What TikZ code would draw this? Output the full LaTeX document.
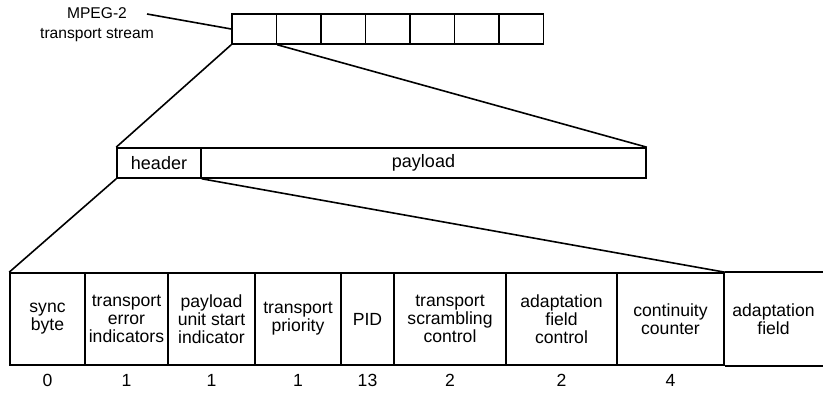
\documentclass[tikz,border=0pt]{standalone}
\usepackage{fontspec}
\setmainfont{Liberation Sans}
\usetikzlibrary{positioning}

\begin{document}
\begin{tikzpicture}[x=0.5pt, y=-0.5pt, line width=0.8pt,
  pkt/.style={draw, minimum width=22.25pt, minimum height=15pt, inner sep=0pt},
  part/.style={draw, minimum height=15pt, inner sep=0pt, font=\fontsize{9}{10}\selectfont},
  fld/.style={draw, minimum height=46pt, inner sep=1pt, align=center, font=\fontsize{8.8}{9}\selectfont},
  bits/.style={inner sep=0pt, font=\fontsize{8.8}{9}\selectfont},
  lbl/.style={align=center, inner sep=0pt, font=\fontsize{7.8}{10}\selectfont}
]
  \useasboundingbox (0,0) rectangle (823,394);

  % transport stream of packets
  \foreach \i in {1,...,7}
    \node[pkt] (p\i) at ({232+44.5*(\i-0.5)}, 29) {};
  \node[lbl] (ts) at (97,25) {MPEG-2\\transport stream};
  \coordinate (tsend) at (147,14);
  \draw (tsend) -- (p1.west);

  % one packet
  \node[part, minimum width=42pt] (hdr) at (159,163) {header};
  \node[part, minimum width=222.5pt] (pay) at (423.5,163) {payload};

  % header fields with bit counts
  \foreach \n/\l/\r/\t/\b in {sync/10/85/{sync\\byte}/0,
      tei/85/168/{transport\\error\\indicators}/1,
      pusi/168/255/{payload\\unit start\\indicator}/1,
      prio/255/341/{transport\\priority}/1,
      pid/341/394/{PID}/13,
      tsc/394/506/{transport\\scrambling\\control}/2,
      afc/506/617/{adaptation\\field\\control}/2,
      cc/617/724/{continuity\\counter}/4}
  {
    \node[fld, minimum width={(\r-\l)*0.5pt}] (\n) at ({(\l+\r)/2}, 319) {\t};
    \node[bits] (\n-b) at ({(\l+\r)/2}, 380) {\b};
  }
  \node[fld, draw=none, minimum width=49.5pt] (af) at (773.5,319) {adaptation\\field};
  \draw (cc.north east) -- (af.north east);
  \draw (cc.south east) -- (af.south east);

  % zoom lines
  \draw (p1.south west) -- (hdr.north west);
  \draw (p1.south east) -- (pay.north east);
  \draw (hdr.south west) -- (sync.north west);
  \draw (hdr.south east) -- (cc.north east);
\end{tikzpicture}
\end{document}
